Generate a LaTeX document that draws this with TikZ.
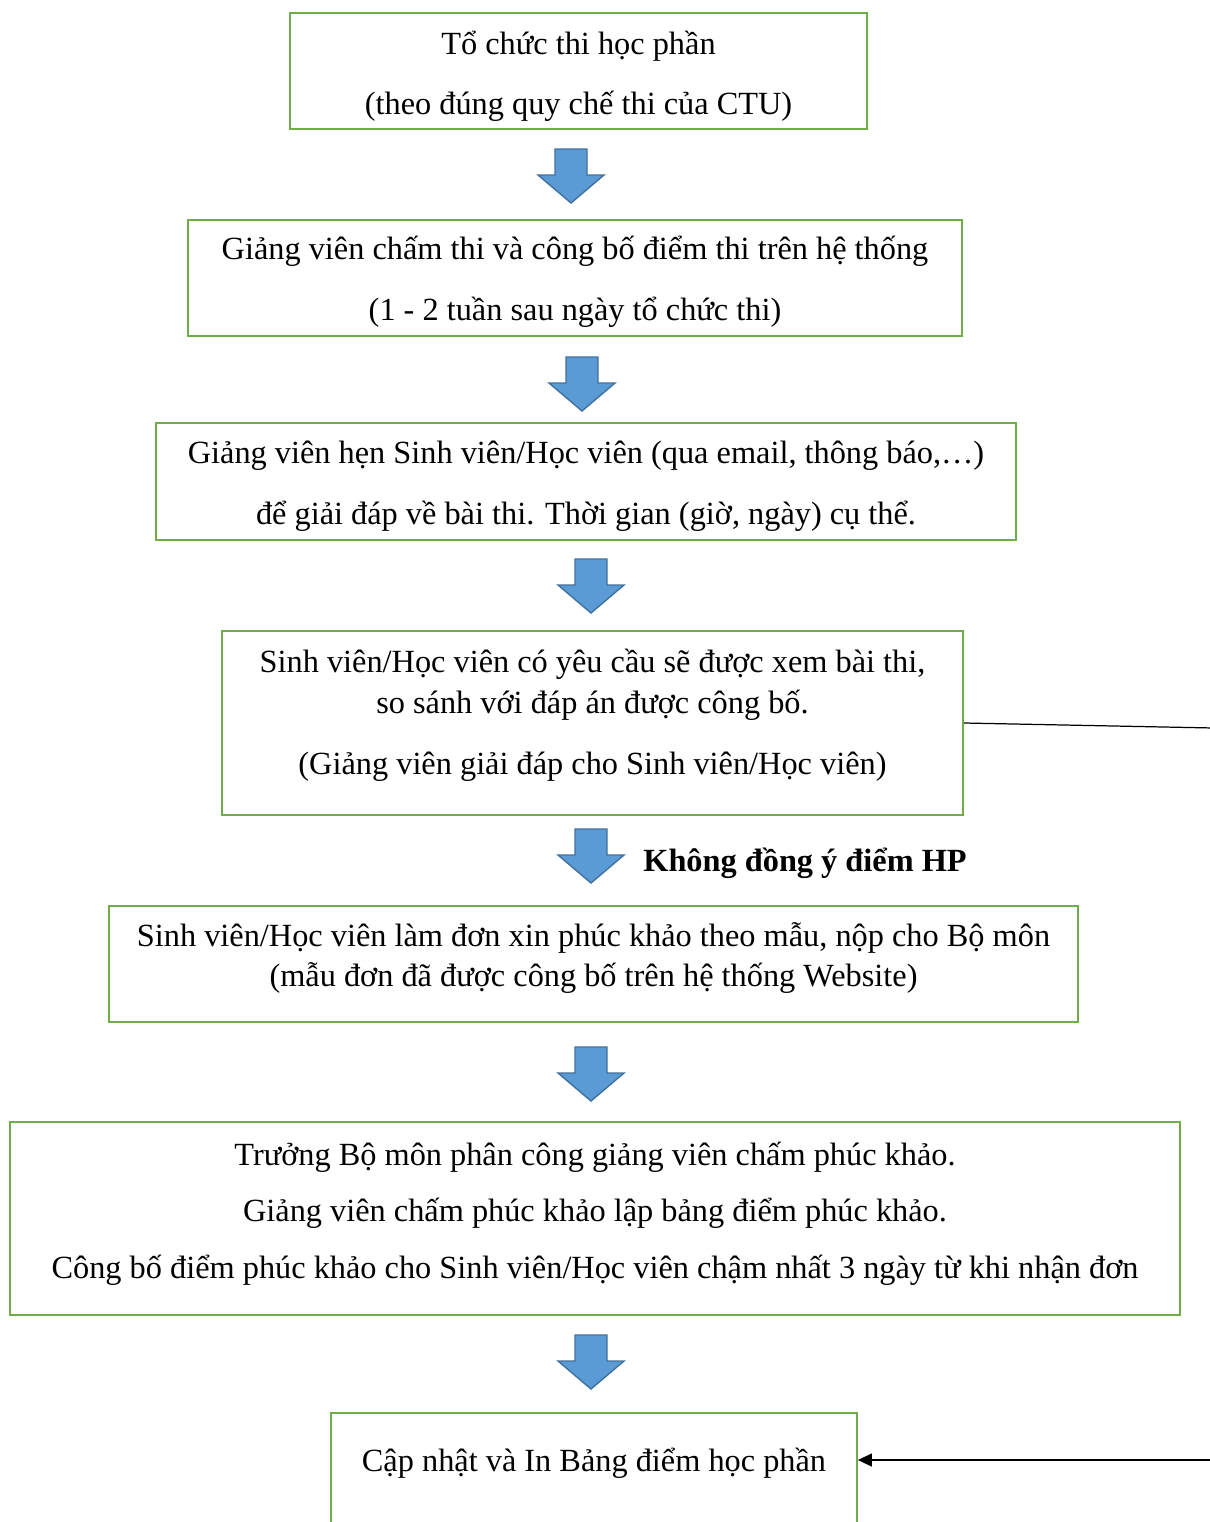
\documentclass[tikz,border=0pt]{standalone}
\usepackage{fontspec}
\setmainfont{Liberation Serif}
\usetikzlibrary{arrows.meta}

\definecolor{boxgreen}{HTML}{70AD47}
\definecolor{arrowfill}{HTML}{5B9BD5}
\definecolor{arrowedge}{HTML}{41719C}

\tikzset{
    stepbox/.style={draw=boxgreen, line width=1.1pt, inner sep=0pt},
    steptext/.style={align=center, inner sep=0pt},
    blockarrow/.style={fill=arrowfill, draw=arrowedge, line width=0.8pt, line join=miter},
    link/.style={draw=black, line width=0.7pt},
}

\begin{document}
\begin{tikzpicture}[x=0.02cm, y=-0.02cm, font=\fontsize{18.4}{23.3}\selectfont]

    % khung trang
    \useasboundingbox (0,0) rectangle (1210,1522);
    \fill[white] (0,0) rectangle (1210,1522);
    \clip (0,0) rectangle (1210,1522);

    % --- cac buoc ---
    \node[stepbox, minimum width=11.54cm, minimum height=2.32cm] (thi) at (578.5,71) {};
    \node[steptext] (thi-txt) at ([yshift=-0.1cm]thi.center)
        {Tổ chức thi học phần\\[0.38cm](theo đúng quy chế thi của CTU)};

    \node[stepbox, minimum width=15.48cm, minimum height=2.32cm] (cham) at (575,278) {};
    \node[steptext] (cham-txt) at ([yshift=-0.08cm]cham.center)
        {Giảng viên chấm thi và công bố điểm thi trên hệ thống\\[0.4cm](1 - 2 tuần sau ngày tổ chức thi)};

    \node[stepbox, minimum width=17.2cm, minimum height=2.34cm] (hen) at (586,481.5) {};
    \node[steptext] (hen-txt) at ([yshift=-0.1cm]hen.center)
        {Giảng viên hẹn Sinh viên/Học viên (qua email, thông báo,…)\\[0.4cm]để giải đáp về bài thi. Thời gian (giờ, ngày) cụ thể.};

    \node[stepbox, minimum width=14.82cm, minimum height=3.68cm] (xem) at (592.5,723) {};
    \node[steptext] (xem-txt) at ([yshift=0.16cm]xem.center)
        {Sinh viên/Học viên có yêu cầu sẽ được xem bài thi,\\so sánh với đáp án được công bố.\\[0.4cm](Giảng viên giải đáp cho Sinh viên/Học viên)};

    \node[stepbox, minimum width=19.38cm, minimum height=2.32cm] (don) at (593.5,964) {};
    \node[steptext] (don-txt) at ([yshift=0.12cm]don.center)
        {Sinh viên/Học viên làm đơn xin phúc khảo theo mẫu, nộp cho Bộ môn\\(mẫu đơn đã được công bố trên hệ thống Website)};

    \node[stepbox, minimum width=23.4cm, minimum height=3.86cm] (phuckhao) at (595,1218.5) {};
    \node[steptext] (phuckhao-txt) at ([yshift=0.1cm]phuckhao.center)
        {Trưởng Bộ môn phân công giảng viên chấm phúc khảo.\\[0.31cm]Giảng viên chấm phúc khảo lập bảng điểm phúc khảo.\\[0.31cm]Công bố điểm phúc khảo cho Sinh viên/Học viên chậm nhất 3 ngày từ khi nhận đơn};

    \node[stepbox, minimum width=10.52cm, text height=1.18cm, text depth=1.2cm, anchor=north] (capnhat) at (594,1412)
        {Cập nhật và In Bảng điểm học phần};

    % --- mui ten khoi ---
    \foreach \cx/\ty in {571/149, 582/357, 591/559, 591/829, 591/1047, 591/1335}
        \draw[blockarrow] (\cx-16,\ty) -- (\cx+16,\ty) -- (\cx+16,\ty+26) -- (\cx+33,\ty+26)
            -- (\cx,\ty+54) -- (\cx-33,\ty+26) -- (\cx-16,\ty+26) -- cycle;

    \node[font=\fontsize{18.4}{23.3}\selectfont\bfseries, anchor=west, inner sep=0pt] (khong) at (643,863)
        {Không đồng ý điểm HP};

    % --- duong ben phai ---
    \coordinate (ra) at (1214,728);
    \coordinate (rb) at (1214,1460);
    \draw[link] (xem.east) -- (ra);
    \draw[link, line width=0.9pt, -{Triangle[length=0.28cm, width=0.26cm]}] (rb) -- (rb -| capnhat.east);

\end{tikzpicture}
\end{document}
